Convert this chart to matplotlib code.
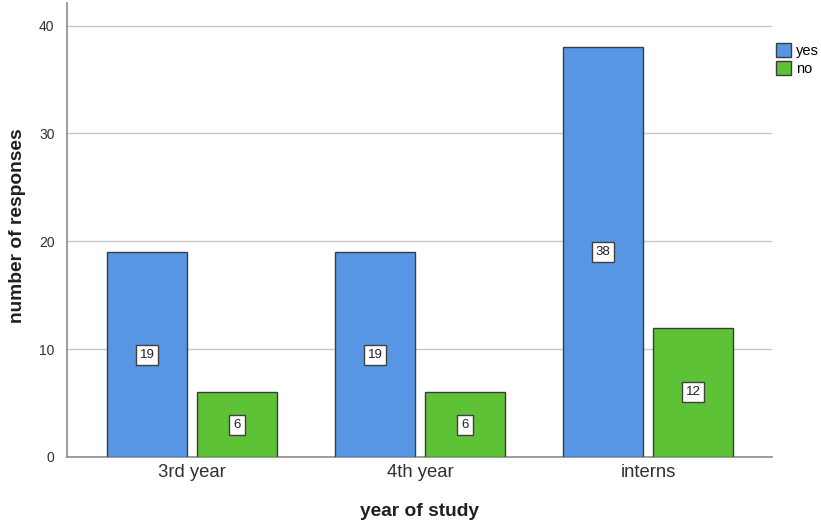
import matplotlib
matplotlib.use("Agg")
import matplotlib.pyplot as plt
import numpy as np
from matplotlib.patches import Patch

plt.rcParams["font.family"] = ["Liberation Sans", "DejaVu Sans"]

categories = ["3rd year", "4th year", "interns"]
yes_counts = [19, 19, 38]
no_counts = [6, 6, 12]
series_names = ["yes", "no"]
yticks = [0, 10, 20, 30, 40]

blue = "#5796E4"
green = "#5EC236"
edge = "#3C3C3C"

fig = plt.figure(figsize=(8.21, 5.25), dpi=100)
ax = fig.add_axes([67 / 821, (525 - 457) / 525, (772 - 67) / 821, (457 - 3) / 525])

x = np.arange(len(categories))
w = 80 / 228
off = 45 / 228

for vals, col, sign in [(yes_counts, blue, -1), (no_counts, green, 1)]:
    bars = ax.bar(x + sign * off, vals, width=w, color=col, edgecolor=edge, linewidth=1.0, zorder=3)
    for b, v in zip(bars, vals):
        ax.text(b.get_x() + b.get_width() / 2, v / 2, str(v), ha="center", va="center",
                fontsize=9.5, color="#202020", zorder=4,
                bbox=dict(boxstyle="square,pad=0.3", fc="white", ec="#404040", lw=1.0))

ax.set_xlim((67 - 192) / 228, (772 - 192) / 228)
ax.set_ylim(0, 42.1)
ax.set_yticks(yticks)
ax.set_xticks(x)
ax.set_xticklabels(categories, fontsize=13.3, color="#303030")
ax.tick_params(axis="y", labelsize=10, colors="#303030", length=0, pad=9)
ax.tick_params(axis="x", length=0, pad=5)
ax.yaxis.grid(True, color="#C8C8C8", linewidth=1.0, zorder=0)
ax.set_axisbelow(True)
for s in ["top", "right"]:
    ax.spines[s].set_visible(False)
for s in ["left", "bottom"]:
    ax.spines[s].set_color("#8C8C8C")
    ax.spines[s].set_linewidth(1.2)

ax.set_xlabel("year of study", fontsize=13.8, fontweight="bold", color="#202020")
ax.set_ylabel("number of responses", fontsize=13.8, fontweight="bold", color="#202020")
ax.xaxis.set_label_coords((420 - 67) / 705, -(511 - 457) / 454)
ax.yaxis.set_label_coords(-(67 - 18) / 705, (457 - 226) / 454)
ax.xaxis.label.set_va("center")
ax.yaxis.label.set_va("center")

handles = [Patch(facecolor=blue, edgecolor=edge), Patch(facecolor=green, edgecolor=edge)]
fig.legend(handles, series_names, loc="upper left", bbox_to_anchor=(770 / 821, 1 - 37 / 525),
           frameon=False, fontsize=10.5, handlelength=1.05, handleheight=1.1, handletextpad=0.35,
           labelspacing=0.25, borderaxespad=0)

fig.savefig("out.png", dpi=100, facecolor="white")
